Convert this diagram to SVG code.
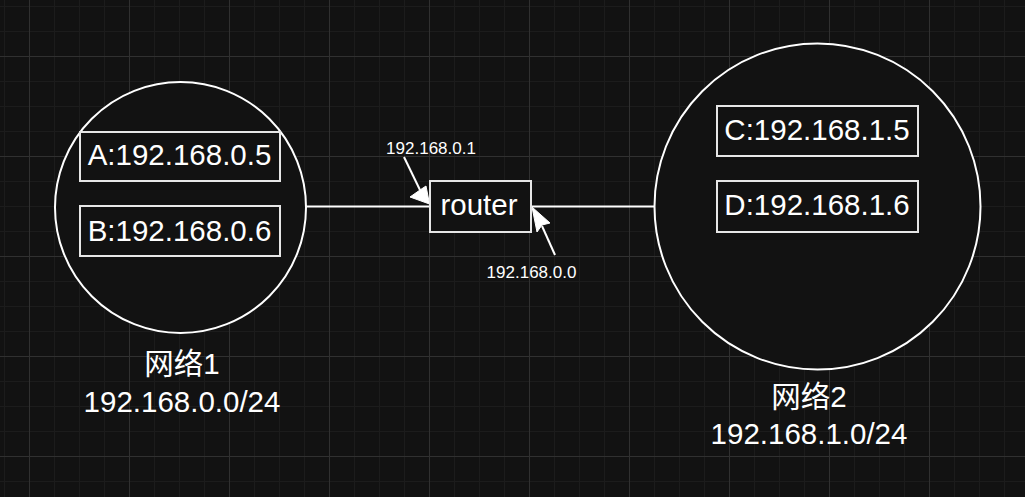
<svg xmlns="http://www.w3.org/2000/svg" width="1025" height="497" viewBox="0 0 1025 497">
<defs>
<pattern id="minor" x="4" y="6" width="25" height="25" patternUnits="userSpaceOnUse">
<path d="M0 0.5H25M0.5 0V25" fill="none" stroke="#1c1c1c" stroke-width="1"/>
</pattern>
<pattern id="major" x="29" y="56" width="100" height="100" patternUnits="userSpaceOnUse">
<path d="M0 0.5H100M0.5 0V100" fill="none" stroke="#303030" stroke-width="1"/>
</pattern>
</defs>
<style>
.shape{fill:#121212;stroke:#ffffff;stroke-width:2}
.box{fill:#121212;stroke:#e6e6e6;stroke-width:2}
.t{font-family:"Liberation Sans",Arial,"Noto Sans CJK SC",sans-serif;fill:#ffffff;text-anchor:middle}
.big{font-size:29.5px}
.small{font-size:17px}
.edge{stroke:#ffffff;stroke-width:2;fill:none}
.head{fill:#ffffff;stroke:#ffffff;stroke-width:1}
</style>
<rect width="1025" height="497" fill="#121212"/>
<rect width="1025" height="497" fill="url(#minor)"/>
<rect width="1025" height="497" fill="url(#major)"/>
<g id="connectors">
<line class="edge" x1="306" y1="206.5" x2="430" y2="206.5"/>
<line class="edge" x1="531" y1="206.5" x2="654" y2="206.5"/>
<line class="edge" x1="404" y1="157" x2="420" y2="190"/>
<polygon class="head" points="429.5,204 410,197 420,190 426,186"/>
<line class="edge" x1="555" y1="255" x2="542" y2="226"/>
<polygon class="head" points="532,207 550,223 542,225 537,232"/>
<text class="t small" x="431" y="154">192.168.0.1</text>
<text class="t small" x="531.5" y="278">192.168.0.0</text>
</g>
<g id="net1">
<circle class="shape" cx="180.5" cy="207.5" r="125.5"/>
<text class="t big" x="182" y="374">网络1</text>
<text class="t big" x="182" y="412">192.168.0.0/24</text>
</g>
<g id="hostA">
<rect class="box" x="80" y="132" width="200" height="49"/>
<text class="t big" x="179.5" y="165">A:192.168.0.5</text>
</g>
<g id="hostB">
<rect class="box" x="80" y="206" width="200" height="50"/>
<text class="t big" x="179.5" y="240.5">B:192.168.0.6</text>
</g>
<g id="router">
<rect class="box" x="430" y="181" width="101" height="51"/>
<text class="t big" x="479" y="215">router</text>
</g>
<g id="net2">
<circle class="shape" cx="817.5" cy="206.5" r="163"/>
<text class="t big" x="809" y="407">网络2</text>
<text class="t big" x="809" y="444">192.168.1.0/24</text>
</g>
<g id="hostC">
<rect class="box" x="717" y="106" width="201" height="50"/>
<text class="t big" x="817" y="140">C:192.168.1.5</text>
</g>
<g id="hostD">
<rect class="box" x="717" y="181" width="201" height="51"/>
<text class="t big" x="817" y="215">D:192.168.1.6</text>
</g>
</svg>
